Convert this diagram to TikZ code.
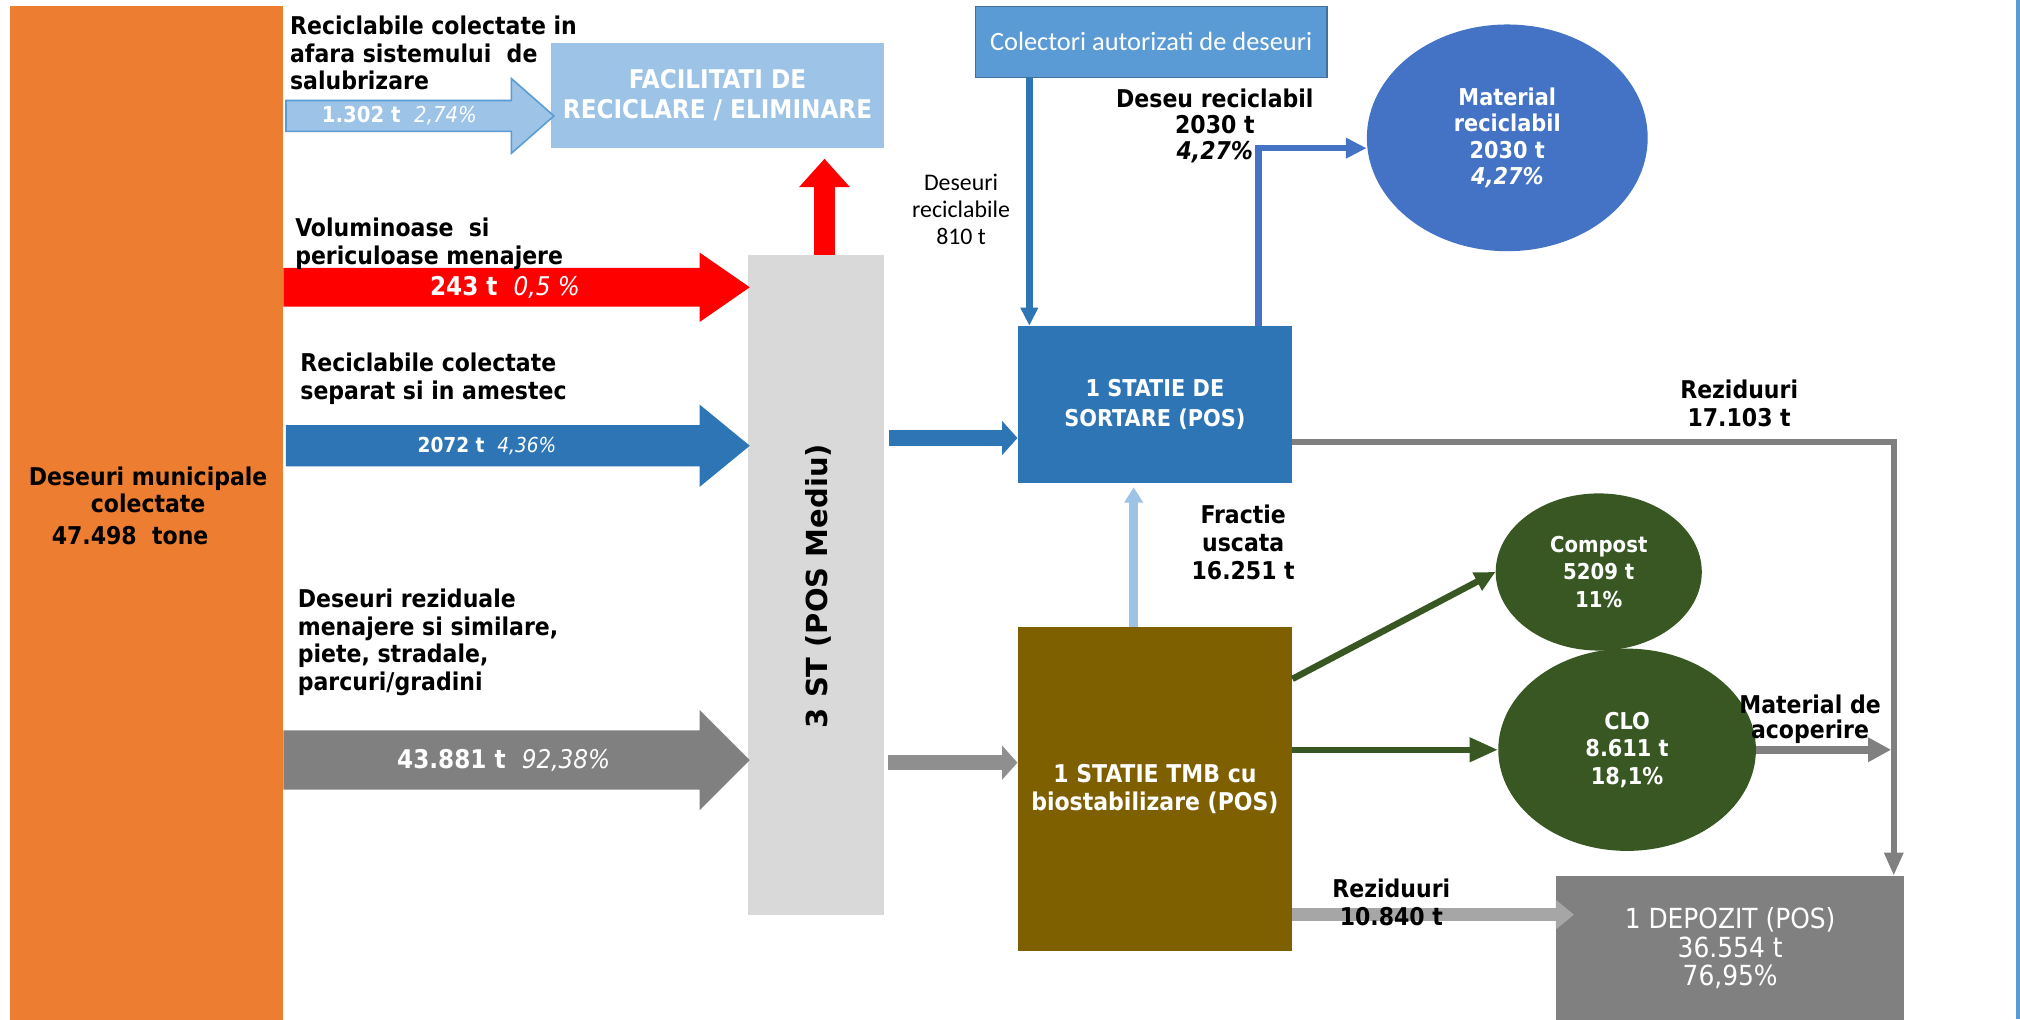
\documentclass[tikz,border=0pt]{standalone}
\usepackage{fontspec}
\setmainfont{DejaVu Sans Condensed}
\newfontfamily\wideface{DejaVu Sans}
\newfontfamily\calface{Carlito}
\usetikzlibrary{arrows.meta,calc,shapes.geometric}

\definecolor{orangeM}{HTML}{ED7D31}
\definecolor{paleblue}{HTML}{9DC3E6}
\definecolor{paleedge}{HTML}{5B9BD5}
\definecolor{sortblue}{HTML}{2E75B6}
\definecolor{colblue}{HTML}{5B9BD5}
\definecolor{coledge}{HTML}{41719C}
\definecolor{matblue}{HTML}{4472C4}
\definecolor{stgray}{HTML}{D9D9D9}
\definecolor{resgray}{HTML}{808080}
\definecolor{midgray}{HTML}{8F8F8F}
\definecolor{palegray}{HTML}{A6A6A6}
\definecolor{tmbbrown}{HTML}{7F6000}
\definecolor{compgreen}{HTML}{385723}
\definecolor{hazred}{HTML}{FF0000}

\tikzset{
  lbl/.style={font=\bfseries\fontsize{19}{21.5}\selectfont, align=left, anchor=north west, inner sep=0pt},
  clbl/.style={lbl, align=center, anchor=north},
  blk/.style={rectangle, inner sep=0pt, text=white, align=center, font=\bfseries\fontsize{18}{23}\selectfont},
  oval/.style={ellipse, inner sep=0pt, text=white, align=center, font=\bfseries\fontsize{18}{21.5}\selectfont},
  flowtxt/.style={text=white, inner sep=0pt, font=\bfseries\fontsize{18}{21}\selectfont},
  feed/.style={line width=12pt, -{Triangle[width=26pt,length=12pt]}},
  pipe/.style={line width=5pt, -{Triangle[width=15pt,length=16pt]}}
}

% block arrow: style, x start, x tip, y, half body, half head, head length
\newcommand{\flowarrow}[7]{%
  \path[#1] (#2,#4-#5) -- (#3-#7,#4-#5) -- (#3-#7,#4-#6) -- (#3,#4)
    -- (#3-#7,#4+#6) -- (#3-#7,#4+#5) -- (#2,#4+#5) -- cycle;}

\begin{document}
\begin{tikzpicture}[x=1pt, y=-1pt]
\useasboundingbox (0,0) rectangle (1568,791);

% boxes
\node[blk, fill=orangeM, minimum width=212pt, minimum height=790pt] (munic) at (114,400) {};
\node[blk, fill=paleblue, minimum width=258pt, minimum height=82pt,
  font=\bfseries\fontsize{20}{23}\selectfont] (facil) at (557,74) {FACILITATI DE\\RECICLARE / ELIMINARE};
\node[blk, fill=stgray, minimum width=105pt, minimum height=512pt] (sttall) at (633.5,454) {};
\node[rotate=90, font=\wideface\bfseries\fontsize{22.5}{26}\selectfont] (sttxt) at (635,455) {3 ST (POS Mediu)};
\node[blk, fill=colblue, draw=coledge, line width=1pt, minimum width=273pt, minimum height=55pt,
  font=\calface\fontsize{20.5}{22}\selectfont] (colect) at (893.5,32.5) {Colectori autorizati de deseuri};
\node[blk, fill=sortblue, minimum width=213pt, minimum height=122pt] (sort) at (896.5,314) {1 STATIE DE\\SORTARE (POS)};
\node[blk, fill=tmbbrown, minimum width=213pt, minimum height=251pt,
  font=\bfseries\fontsize{19}{22}\selectfont] (tmb) at (896.5,612.5) {1 STATIE TMB cu\\biostabilizare (POS)};
\node[blk, fill=resgray, minimum width=270pt, minimum height=112pt,
  font=\fontsize{21.5}{22}\selectfont] (depozit) at (1343,736) {1 DEPOZIT (POS)\\36.554 t\\76,95\%};
\node[oval, fill=matblue, minimum width=218pt, minimum height=176pt,
  font=\bfseries\fontsize{18}{20.3}\selectfont] (matrec) at (1170,107) {Material\\reciclabil\\2030 t\\{\itshape 4,27\%}};
\node[oval, fill=compgreen, minimum width=160pt, minimum height=122pt,
  font=\bfseries\fontsize{17}{21.5}\selectfont] (compost) at (1241,444) {Compost\\5209 t\\11\%};
\node[oval, fill=compgreen, minimum width=200pt, minimum height=157pt] (clo) at (1263,582) {CLO\\8.611 t\\18,1\%};

% big flows out of the collected waste
\flowarrow{fill=paleblue, draw=paleedge, line width=1.2pt}{222}{430}{90}{12}{29}{33}
\flowarrow{fill=hazred}{220}{582}{223}{15}{27}{39}
\flowarrow{fill=sortblue}{222}{582}{346}{16}{32}{39}
\flowarrow{fill=resgray}{220}{582}{590}{23}{39}{39}
\node[flowtxt, font=\bfseries\fontsize{17}{21}\selectfont] (q1) at (310,90) {1.302 t~~{\mdseries\itshape 2,74\%}};
\node[flowtxt, font=\bfseries\fontsize{20}{21}\selectfont] (q2) at (392,223) {243 t~~{\mdseries\itshape 0,5 \%}};
\node[flowtxt, font=\bfseries\fontsize{16}{21}\selectfont] (q3) at (378,346) {2072 t~~{\mdseries\itshape 4,36\%}};
\node[flowtxt, font=\bfseries\fontsize{20}{21}\selectfont] (q4) at (391,590) {43.881 t~~{\mdseries\itshape 92,38\%}};

% connectors
\coordinate (redx) at (640,0);
\coordinate (sorty) at (0,340);
\coordinate (tmby) at (0,592);
\coordinate (colx) at (799,0);
\coordinate (matx) at (977,0);
\coordinate (rezx) at (1470,0);
\coordinate (rezy) at (0,343);
\coordinate (uscx) at (880,0);
\coordinate (cmpy) at (0,527);
\coordinate (rez2y) at (0,710);
\coordinate (acop) at (1468,582);

\draw[hazred, line width=16pt, -{Triangle[width=38pt,length=22pt]}, shorten >=8pt]
  (sttall.north -| redx) -- (facil.south -| redx);
\draw[feed, sortblue, shorten <=4pt] (sttall.east |- sorty) -- (sort.west |- sorty);
\draw[feed, midgray, shorten <=3pt] (sttall.east |- tmby) -- (tmb.west |- tmby);
\draw[sortblue, line width=5pt, -{Triangle[width=13pt,length=14pt]}] (colect.south -| colx) -- (sort.north -| colx);
\draw[pipe, matblue] (sort.north -| matx) |- ($(matrec.west)+(0,8)$);
\draw[resgray, line width=5pt, -{Triangle[width=14pt,length=18pt]}] (sort.east |- rezy) -| (depozit.north -| rezx);
\draw[paleblue, line width=7pt, -{Triangle[width=14pt,length=12pt]}, shorten >=3pt] (tmb.north -| uscx) -- (sort.south -| uscx);
\draw[pipe, compgreen] (tmb.east |- cmpy) -- (compost.west);
\draw[pipe, compgreen, -{Triangle[width=18pt,length=22pt]}] (tmb.east |- clo) -- (clo.west);
\draw[resgray, line width=6pt, -{Triangle[width=18pt,length=18pt]}] (clo.east) -- (acop);
\draw[palegray, line width=10pt, -{Triangle[width=22pt,length=14pt]}] (tmb.east |- rez2y) -- ($(depozit.west |- rez2y)+(14,0)$);

% labels
\node[clbl] (munictxt) at (115,362) {Deseuri municipale\\colectate};
\node[clbl] (munictons) at (101,408) {47.498~~tone};
\node[lbl] (lbout) at (225,12) {Reciclabile colectate in\\afara sistemului~~de\\salubrizare};
\node[lbl] (lbhaz) at (229,169) {Voluminoase~~si\\periculoase menajere};
\node[lbl] (lbsep) at (233,274) {Reciclabile colectate\\separat si in amestec};
\node[lbl] (lbrez) at (231,457) {Deseuri reziduale\\menajere si similare,\\piete, stradale,\\parcuri/gradini};
\node[clbl, font=\bfseries\fontsize{19}{20}\selectfont] (lbdes) at (943,69) {Deseu reciclabil\\2030 t\\{\itshape 4,27\%}};
\node[clbl, font=\calface\fontsize{18.5}{21}\selectfont] (lbcol) at (746,135) {Deseuri\\reciclabile\\810 t};
\node[clbl] (lbrz1) at (1350,295) {Reziduuri\\17.103 t};
\node[clbl] (lbfr) at (965,392) {Fractie\\uscata\\16.251 t};
\node[clbl, font=\bfseries\fontsize{19}{20}\selectfont] (lbac) at (1405,539) {Material de\\acoperire};
\node[clbl] (lbrz2) at (1080,682) {Reziduuri\\10.840 t};

% frame edge
\draw[colblue, line width=3pt] (1566.5,0) -- (1566.5,791);
\end{tikzpicture}
\end{document}
